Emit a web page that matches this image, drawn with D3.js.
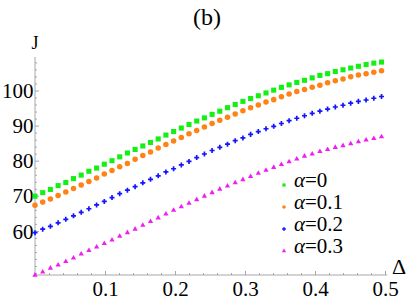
<!DOCTYPE html>
<html>
<head>
<meta charset="utf-8">
<script src="https://cdn.jsdelivr.net/npm/d3@7"></script>
<style>
  body { margin: 0; background: #fff; }
  .eixo path, .eixo line { stroke: #a6a6a6; }
</style>
</head>
<body>
<svg id="grafico" width="407" height="303"></svg>
<script>
// valores
const deltas = [0, 0.011, 0.022, 0.033, 0.044, 0.055, 0.066, 0.077, 0.088, 0.099,
  0.11, 0.121, 0.132, 0.143, 0.154, 0.165, 0.176, 0.187, 0.198, 0.209,
  0.22, 0.231, 0.242, 0.253, 0.264, 0.275, 0.286, 0.297, 0.308, 0.319,
  0.33, 0.341, 0.352, 0.363, 0.374, 0.385, 0.396, 0.407, 0.418, 0.429,
  0.44, 0.451, 0.462, 0.473, 0.484, 0.495];

const jAlfa0 = [69.9, 70.9, 71.8, 72.9, 73.8, 74.9, 75.9, 77.0, 77.9, 79.0,
  80.0, 81.1, 82.2, 83.2, 84.2, 85.2, 86.2, 87.3, 88.3, 89.3,
  90.3, 91.3, 92.2, 93.2, 94.1, 95.1, 96.0, 96.9, 97.7, 98.5,
  99.3, 100.1, 100.9, 101.6, 102.3, 102.9, 103.6, 104.3, 104.8, 105.4,
  105.9, 106.4, 106.9, 107.4, 107.8, 108.1];

const jAlfa01 = [67.3, 68.2, 69.1, 70.1, 71.1, 72.1, 73.1, 74.1, 75.1, 76.2,
  77.2, 78.3, 79.2, 80.4, 81.5, 82.5, 83.6, 84.6, 85.6, 86.6,
  87.7, 88.6, 89.6, 90.6, 91.5, 92.4, 93.3, 94.2, 95.1, 95.9,
  96.7, 97.4, 98.2, 99.0, 99.7, 100.3, 100.9, 101.5, 102.2, 102.8,
  103.3, 103.9, 104.4, 104.8, 105.2, 105.6];

const jAlfa02 = [59.5, 60.5, 61.3, 62.3, 63.3, 64.3, 65.3, 66.3, 67.4, 68.4,
  69.5, 70.6, 71.6, 72.6, 73.7, 74.7, 75.7, 76.8, 77.7, 78.8,
  79.8, 80.9, 81.9, 82.9, 83.8, 84.7, 85.7, 86.5, 87.5, 88.3,
  89.1, 89.8, 90.6, 91.4, 92.1, 92.8, 93.5, 94.1, 94.7, 95.3,
  95.8, 96.4, 96.9, 97.3, 97.8, 98.3];

const jAlfa03 = [47.4, 48.3, 49.4, 50.3, 51.3, 52.3, 53.4, 54.4, 55.4, 56.4,
  57.4, 58.5, 59.5, 60.5, 61.6, 62.7, 63.7, 64.8, 65.9, 66.9,
  67.9, 68.9, 69.9, 70.9, 71.9, 72.8, 73.7, 74.6, 75.5, 76.4,
  77.3, 78.1, 78.9, 79.7, 80.5, 81.3, 81.9, 82.6, 83.2, 83.8,
  84.3, 84.8, 85.4, 85.9, 86.3, 86.8];

const series = [
  { valor: "0",   cor: "#14f014", simbolo: d3.symbolSquare,   tam: 26, tamLeg: 10, dados: jAlfa0 },
  { valor: "0.1", cor: "#ff8214", simbolo: d3.symbolCircle,   tam: 24, tamLeg: 10, dados: jAlfa01 },
  { valor: "0.2", cor: "#1414ff", simbolo: d3.symbolCross,    tam: 14, tamLeg: 8,  dados: jAlfa02 },
  { valor: "0.3", cor: "#f01ef0", simbolo: d3.symbolTriangle, tam: 12, tamLeg: 8,  dados: jAlfa03 }
];

const ticksX = [0.1, 0.2, 0.3, 0.4, 0.5];
const ticksY = [60, 70, 80, 90, 100];

const FONTE = "Liberation Serif";

const svg = d3.select("#grafico");

const x = d3.scaleLinear().domain([0, 0.5]).range([35, 385]);
const y = d3.scaleLinear().domain([60, 100]).range([230.9, 90.5]);

const xMin = 0, xMax = 0.503;
const yMin = y.invert(275), yMax = y.invert(57);

// eixo x (ticks para dentro)
const menoresX = d3.range(1, 26).map(i => i * 0.02).filter(v => !ticksX.some(t => Math.abs(t - v) < 1e-6));
const gx = svg.append("g").attr("class", "eixo").attr("transform", "translate(0,275)");
gx.append("line").attr("x1", x(xMin)).attr("x2", x(xMax));
gx.append("g").call(d3.axisBottom(x).tickValues(menoresX).tickSize(-2).tickFormat(""))
  .select(".domain").remove();
gx.append("g").call(d3.axisBottom(x).tickValues(ticksX).tickSizeInner(-4).tickSizeOuter(0).tickPadding(6.5)
    .tickFormat(d3.format(".1f")))
  .call(g => g.select(".domain").remove())
  .selectAll("text").attr("font-size", 21).style("font-family", FONTE).attr("fill", "#000");

// eixo y
const menoresY = d3.range(48, 110, 2).filter(v => v <= yMax && !ticksY.includes(v));
const gy = svg.append("g").attr("class", "eixo").attr("transform", "translate(35,0)");
gy.append("line").attr("y1", y(yMin)).attr("y2", y(yMax));
gy.append("g").call(d3.axisLeft(y).tickValues(menoresY).tickSize(-2).tickFormat(""))
  .select(".domain").remove();
gy.append("g").call(d3.axisLeft(y).tickValues(ticksY).tickSizeInner(-4).tickSizeOuter(0).tickPadding(1.5))
  .call(g => g.select(".domain").remove())
  .selectAll("text").attr("font-size", 21).style("font-family", FONTE).attr("fill", "#000").attr("dy", "0.34em");

// pontos
series.forEach(s => {
  svg.append("g").selectAll("path")
    .data(s.dados)
    .join("path")
      .attr("transform", (d, i) => `translate(${x(deltas[i])},${y(d)})`)
      .attr("d", d3.symbol(s.simbolo, s.tam))
      .attr("fill", s.cor);
});

// rotulos
const rotulo = (px, py, tam, txt) => svg.append("text")
  .attr("x", px).attr("y", py).attr("text-anchor", "middle")
  .attr("font-size", tam).style("font-family", FONTE).text(txt);
rotulo(207, 25, 24, "(b)");
rotulo(35, 48.5, 18, "J");
rotulo(399, 274, 22, "Δ");

// legenda
const leg = svg.append("g");
series.forEach((s, i) => {
  const base = 187.3 + i * 22;
  leg.append("path").attr("transform", `translate(284,${base - 2.3})`)
    .attr("d", d3.symbol(s.simbolo, s.tamLeg)).attr("fill", s.cor);
  const t = leg.append("text").attr("x", 294).attr("y", base)
    .attr("font-size", 21).style("font-family", FONTE);
  t.append("tspan").attr("font-style", "italic").text("α");
  t.append("tspan").text("=" + s.valor);
});
</script>
</body>
</html>
